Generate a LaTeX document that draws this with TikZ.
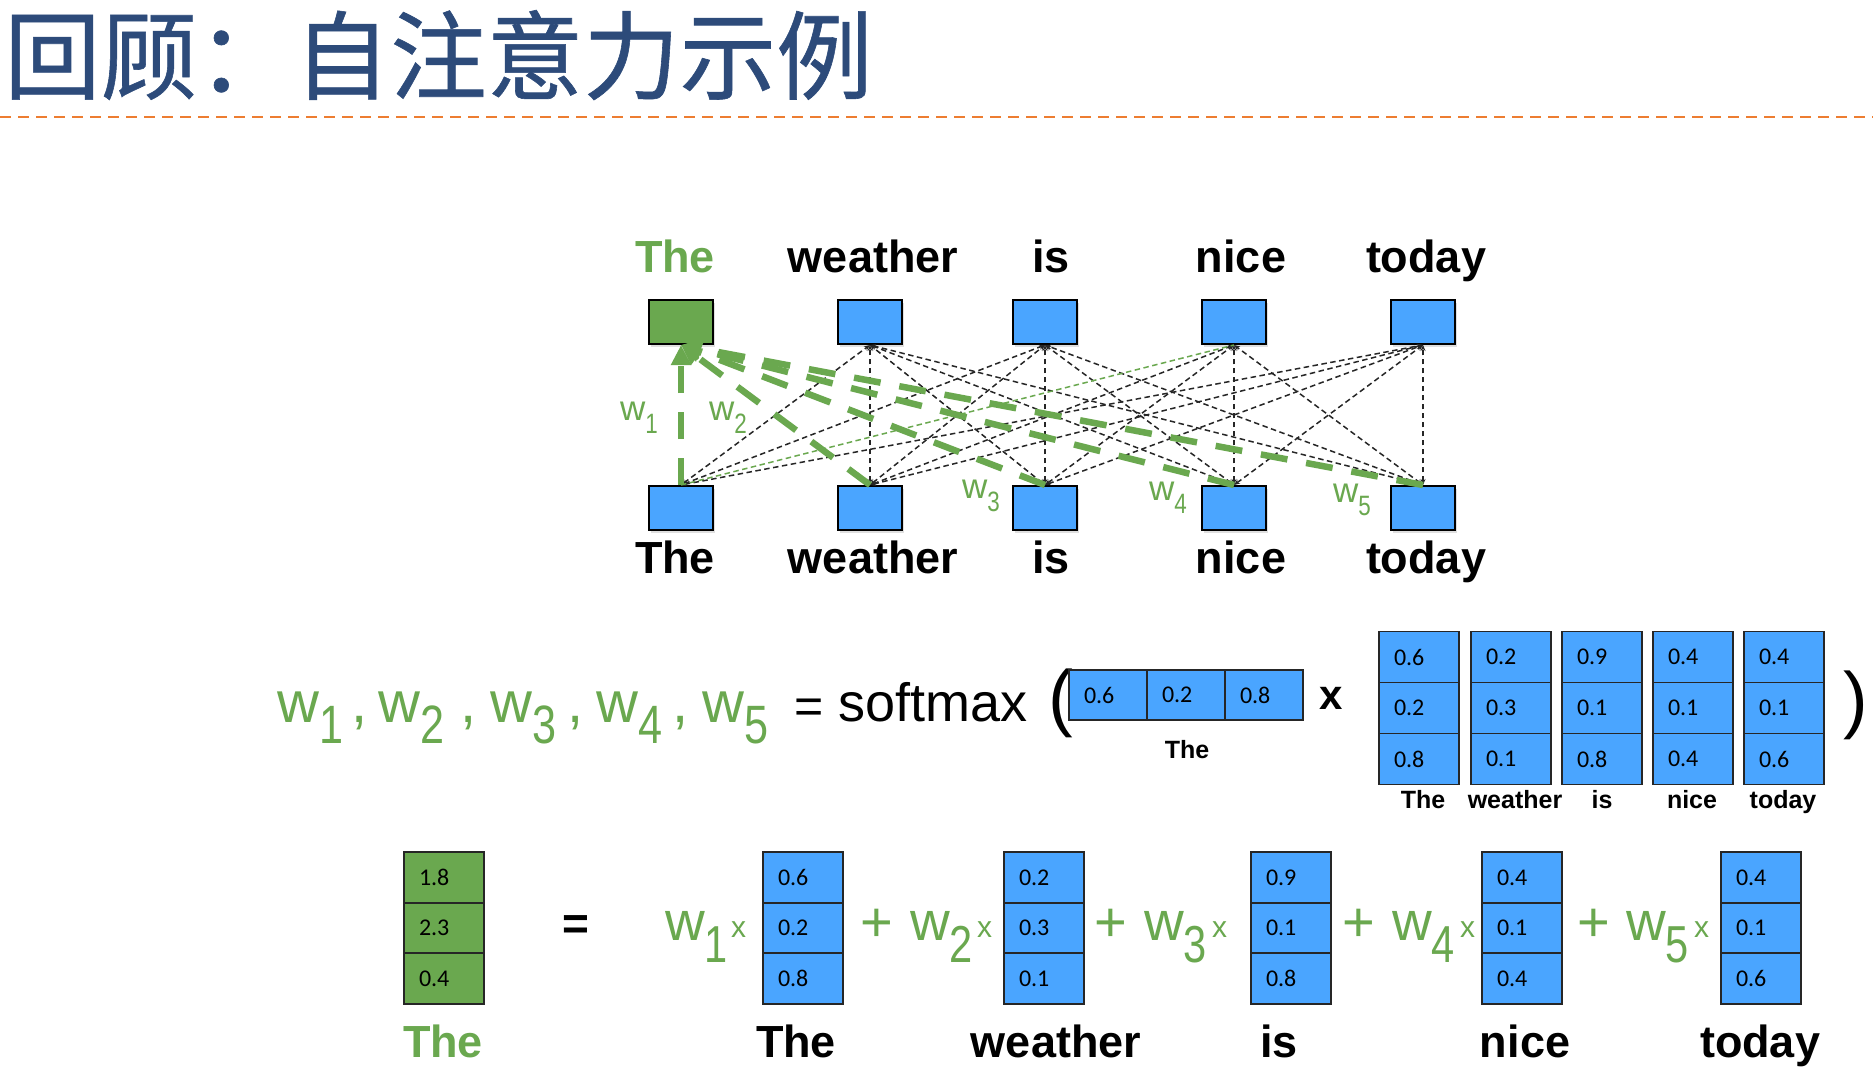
\documentclass[tikz,border=0pt]{standalone}
\usepackage{fontspec}
\setmainfont{Liberation Sans}
\newfontfamily\cjkfont[FakeBold=0.6]{Noto Sans CJK SC}
\newfontfamily\calfont{Carlito}
\usetikzlibrary{arrows.meta,shadows}
\definecolor{titleblue}{RGB}{45,75,122}
\definecolor{dashorange}{RGB}{237,125,49}
\definecolor{cellblue}{RGB}{74,165,255}
\definecolor{wgreen}{RGB}{106,168,79}
\newcommand\fs[1]{\fontsize{#1}{#1}\selectfont}
\newcommand\wlab[3]{w\raisebox{-#3pt}{\fs{#2}\scalebox{0.8}[1]{#1}}}
\begin{document}
\begin{tikzpicture}[x=1pt,y=-1pt,
  every node/.style={inner sep=0pt},
  word/.style={font=\fs{45}\bfseries, anchor=base},
  gword/.style={word, text=wgreen},
  lbl/.style={font=\fs{25}\bfseries, anchor=base},
  gbox/.style={draw=black, line width=2pt, fill=cellblue, minimum width=64pt, minimum height=44pt,
    drop shadow={shadow xshift=2pt,shadow yshift=-3pt,opacity=0.25}},
  cell/.style={draw=black!85, line width=1.6pt, fill=cellblue, minimum height=50pt, text width=50pt,
    inner xsep=15pt, align=left, font=\calfont\fs{24}},
  gcell/.style={cell, fill=wgreen},
  bedge/.style={draw=black!85, line width=1.5pt, dash pattern=on 5.5pt off 3.5pt,
    {Stealth[length=6pt,width=5pt]}-{Stealth[length=6pt,width=5pt]}},
  gthin/.style={draw=wgreen, line width=1.5pt, dash pattern=on 5.5pt off 3.5pt},
  gthick/.style={draw=wgreen, line width=6.5pt, dash pattern=on 27pt off 19pt,
    -{Triangle[length=20pt,width=19pt]}},
  gw/.style={text=wgreen, anchor=base west},
  plus/.style={text=wgreen, font=\fs{56}, anchor=base},
  smx/.style={text=wgreen, font=\fs{30}, anchor=base west}
]
\fill[white] (0,0) rectangle (1873,1081);
\useasboundingbox (0,0) rectangle (1873,1081);

% title
\node[anchor=base west, font=\cjkfont\fs{96.5}, text=titleblue] (title) at (4,92) {回顾：自注意力示例};
\coordinate (ol) at (0,117);
\coordinate (or) at (1873,117);
\draw[dashorange, line width=2.5pt, dash pattern=on 11pt off 7pt] (ol) -- (or);

% graph words
\node[gword] (tw1) at (675,272) {The};
\node[word] (tw2) at (873,272) {weather};
\node[word] (tw3) at (1051,272) {is};
\node[word] (tw4) at (1241,272) {nice};
\node[word] (tw5) at (1426,272) {today};
\node[word] (bw1) at (675,573) {The};
\node[word] (bw2) at (873,573) {weather};
\node[word] (bw3) at (1051,573) {is};
\node[word] (bw4) at (1241,573) {nice};
\node[word] (bw5) at (1426,573) {today};

% graph boxes
\node[gbox, fill=wgreen] (t1) at (681,322) {};
\node[gbox] (t2) at (870,322) {};
\node[gbox] (t3) at (1045,322) {};
\node[gbox] (t4) at (1234,322) {};
\node[gbox] (t5) at (1423,322) {};
\node[gbox] (b1) at (681,508) {};
\node[gbox] (b2) at (870,508) {};
\node[gbox] (b3) at (1045,508) {};
\node[gbox] (b4) at (1234,508) {};
\node[gbox] (b5) at (1423,508) {};

% black edges
\foreach \i in {2,3,4,5}{\foreach \j in {1,...,5}{
  \ifnum\numexpr\i*10+\j\relax=41 \else
    \draw[bedge] (b\j.north) -- (t\i.south);
  \fi}}
\draw[gthin] (b1.north) -- (t4.south);
% green thick edges
\foreach \j in {1,...,5}{\draw[gthick] (b\j.north) -- (t1.south);}

% graph w labels
\node[gw, font=\fs{35}] (gl1) at (620,420) {\wlab{1}{28}{13}};
\node[gw, font=\fs{35}] (gl2) at (709,420) {\wlab{2}{28}{13}};
\node[gw, font=\fs{35}] (gl3) at (962,498) {\wlab{3}{28}{13}};
\node[gw, font=\fs{35}] (gl4) at (1149,500) {\wlab{4}{28}{13}};
\node[gw, font=\fs{35}] (gl5) at (1333,502) {\wlab{5}{28}{13}};

% row 2: softmax
\node[gw, font=\fs{58}] (sw1) at (277,722) {\wlab{1}{54}{21}};
\node[gw, font=\fs{58}] (sw2) at (378,722) {\wlab{2}{54}{21}};
\node[gw, font=\fs{58}] (sw3) at (490,722) {\wlab{3}{54}{21}};
\node[gw, font=\fs{58}] (sw4) at (596,722) {\wlab{4}{54}{21}};
\node[gw, font=\fs{58}] (sw5) at (702,722) {\wlab{5}{54}{21}};
\node[text=wgreen, font=\fs{58}, anchor=base] (sc1) at (360,722) {,};
\node[text=wgreen, font=\fs{58}, anchor=base] (sc2) at (469,722) {,};
\node[text=wgreen, font=\fs{58}, anchor=base] (sc3) at (576,722) {,};
\node[text=wgreen, font=\fs{58}, anchor=base] (sc4) at (681,722) {,};
\node[font=\fs{50}, anchor=base] (eq1) at (809,723) {=};
\node[font=\fs{54}, anchor=base west] (smax) at (838,721) {softmax};
\node[font=\fs{74}, anchor=base west] (lp) at (1048,722) {(};
\node[cell, text width=48pt] (v1) at (1108,695) {0.6};
\node[cell, text width=48pt] (v2) at (1186,695) {0.2};
\node[cell, text width=48pt] (v3) at (1264,695) {0.8};
\node[lbl] (vl) at (1187,758) {The};
\node[font=\fs{42}\bfseries, anchor=base west] (times) at (1319,709) {x};
\foreach \c/\x/\a/\b/\d/\lab/\lx in {1/1419/0.6/0.2/0.8/The/1423, 2/1511/0.2/0.3/0.1/weather/1515,
    3/1602/0.9/0.1/0.8/is/1602, 4/1693/0.4/0.1/0.4/nice/1692, 5/1784/0.4/0.1/0.6/today/1783}{
  \node[cell, minimum height=51pt] (m\c a) at (\x,657) {\a};
  \node[cell, minimum height=51pt] (m\c b) at (\x,708) {\b};
  \node[cell, minimum height=51pt] (m\c c) at (\x,759) {\d};
  \node[lbl] (ml\c) at (\lx,808) {\lab};
}
\node[font=\fs{74}, anchor=base west] (rp) at (1843,724) {)};

% row 3: weighted sum
\node[gcell, minimum height=50.5pt] (ra) at (444,877.5) {1.8};
\node[gcell, minimum height=50.5pt] (rb) at (444,928) {2.3};
\node[gcell, minimum height=50.5pt] (rc) at (444,978.5) {0.4};
\node[gword] (rl) at (443,1057) {The};
\node[font=\fs{46}\bfseries, anchor=base] (eq2) at (576,939) {=};
\foreach \c/\x/\a/\b/\d/\lab/\lx/\wx/\xx in {1/803/0.6/0.2/0.8/The/796/665/731,
    2/1044/0.2/0.3/0.1/weather/1056/910/977,
    3/1291/0.9/0.1/0.8/is/1279/1144/1212,
    4/1522/0.4/0.1/0.4/nice/1525/1392/1460,
    5/1761/0.4/0.1/0.6/today/1760/1626/1694}{
  \node[cell, minimum height=50.5pt] (c\c a) at (\x,877.5) {\a};
  \node[cell, minimum height=50.5pt] (c\c b) at (\x,928) {\b};
  \node[cell, minimum height=50.5pt] (c\c c) at (\x,978.5) {\d};
  \node[word] (cl\c) at (\lx,1057) {\lab};
  \node[gw, font=\fs{55}] (cw\c) at (\wx,940) {\wlab{\c}{52}{22}};
  \node[smx] (cx\c) at (\xx,937) {x};
}
\node[plus] (p1) at (877,941) {+};
\node[plus] (p2) at (1111,941) {+};
\node[plus] (p3) at (1359,941) {+};
\node[plus] (p4) at (1594,941) {+};
\end{tikzpicture}
\end{document}
